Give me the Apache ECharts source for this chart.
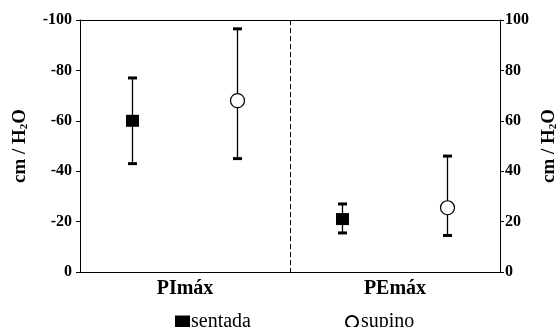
<!DOCTYPE html>
<html>
<head>
<meta charset="utf-8">
<script src="https://cdn.jsdelivr.net/npm/echarts@6/dist/echarts.min.js"></script>
<style>
html,body{margin:0;padding:0;background:#fff;}
#c{width:558px;height:327px;}
</style>
</head>
<body>
<div id="c"></div>
<script>
// ---- data ----
var categories = ['PImáx', 'PEmáx'];
var seriesNames = ['sentada', 'supino'];
var sentadaMean = [-60, -21];
var sentadaLow = [-43, -15.5];
var sentadaHigh = [-77, -27];
var supinoMean = [-68, -25.5];
var supinoLow = [-45, -14.5];
var supinoHigh = [-96.5, -46];
var leftTicks = [-100, -80, -60, -40, -20, 0];
var rightTicks = [0, 20, 40, 60, 80, 100];

// ---- chart ----
var FONT = '"Liberation Serif", "Times New Roman", serif';
var chart = echarts.init(document.getElementById('c'), null, {renderer: 'canvas'});

// each category occupies 2 units on a hidden value axis; series offset within it
function xpos(catIdx, seriesIdx) { return catIdx * 2 + 0.5 + seriesIdx; }

var meanData0 = sentadaMean.map(function (v, i) { return [xpos(i, 0), v]; });
var meanData1 = supinoMean.map(function (v, i) { return [xpos(i, 1), v]; });
var errData = [];
sentadaMean.forEach(function (v, i) { errData.push([xpos(i, 0), sentadaLow[i], sentadaHigh[i]]); });
supinoMean.forEach(function (v, i) { errData.push([xpos(i, 1), supinoLow[i], supinoHigh[i]]); });

var nameText = 'cm / H{sub|2}O';
var nameStyle = {
  fontFamily: FONT, fontWeight: 'bold', fontSize: 19, color: '#000',
  rich: {
    sub: {fontFamily: FONT, fontWeight: 'bold', fontSize: 11, color: '#000', verticalAlign: 'bottom', padding: [6, 0, 0, 0]}
  }
};

var option = {
  animation: false,
  backgroundColor: '#fff',
  grid: {left: 80, right: 58, top: 20, bottom: 55, containLabel: false, outerBoundsMode: 'none'},
  legend: [
    {data: [seriesNames[0]], left: 170, top: 307, itemWidth: 15, itemHeight: 13, itemGap: 0,
     textStyle: {fontFamily: FONT, fontSize: 20, color: '#000', padding: [0, 0, 0, -4]}},
    {data: [seriesNames[1]], left: 340, top: 307, itemWidth: 12, itemHeight: 12, itemGap: 0,
     textStyle: {fontFamily: FONT, fontSize: 20, color: '#000', padding: [0, 0, 0, -2]}}
  ],
  xAxis: [
    {type: 'category', data: categories, position: 'bottom',
     axisLine: {lineStyle: {color: '#000', width: 1}},
     axisTick: {alignWithLabel: true, inside: true, length: 4, lineStyle: {color: '#000'}},
     axisLabel: {fontFamily: FONT, fontWeight: 'bold', fontSize: 20, color: '#000', margin: 7},
     splitLine: {show: false}},
    {type: 'value', min: 0, max: categories.length * 2, position: 'top',
     axisLine: {show: true, onZero: false, lineStyle: {color: '#000', width: 1}},
     axisTick: {show: false}, axisLabel: {show: false}, splitLine: {show: false}}
  ],
  yAxis: [
    {type: 'value', min: leftTicks[0], max: leftTicks[leftTicks.length - 1], interval: 20, inverse: true,
     position: 'left',
     axisLine: {show: true, lineStyle: {color: '#000', width: 1}},
     axisTick: {show: true, length: 4, lineStyle: {color: '#000'}},
     axisLabel: {fontFamily: FONT, fontWeight: 'bold', fontSize: 16, color: '#000', margin: 8},
     splitLine: {show: false},
     name: nameText, nameLocation: 'middle', nameGap: 50, nameRotate: 90, nameTextStyle: nameStyle},
    {type: 'value', min: rightTicks[0], max: rightTicks[rightTicks.length - 1], interval: 20,
     position: 'right',
     axisLine: {show: true, lineStyle: {color: '#000', width: 1}},
     axisTick: {show: true, length: 4, lineStyle: {color: '#000'}},
     axisLabel: {fontFamily: FONT, fontWeight: 'bold', fontSize: 16, color: '#000', margin: 5},
     splitLine: {show: false},
     name: nameText, nameLocation: 'middle', nameGap: 38, nameRotate: 90, nameTextStyle: nameStyle}
  ],
  series: [
    {type: 'custom', name: 'err', xAxisIndex: 1, yAxisIndex: 0, z: 2,
     data: errData,
     renderItem: function (params, api) {
       var x = api.value(0);
       var p1 = api.coord([x, api.value(1)]);
       var p2 = api.coord([x, api.value(2)]);
       var cw = 4.5;
       var st = {stroke: '#000', lineWidth: 1.3};
       var cap = {stroke: '#000', lineWidth: 3};
       return {type: 'group', children: [
         {type: 'line', shape: {x1: p1[0], y1: p1[1], x2: p2[0], y2: p2[1]}, style: st},
         {type: 'line', shape: {x1: p1[0] - cw, y1: p1[1], x2: p1[0] + cw, y2: p1[1]}, style: cap},
         {type: 'line', shape: {x1: p2[0] - cw, y1: p2[1], x2: p2[0] + cw, y2: p2[1]}, style: cap}
       ]};
     },
     markLine: {silent: true, symbol: 'none', label: {show: false},
       lineStyle: {color: '#000', type: [5, 3], width: 1},
       data: [{xAxis: categories.length}]}
    },
    {type: 'scatter', name: seriesNames[0], xAxisIndex: 1, yAxisIndex: 0, z: 5,
     symbol: 'rect', symbolSize: [13, 12],
     itemStyle: {color: '#000', opacity: 1},
     data: meanData0},
    {type: 'scatter', name: seriesNames[1], xAxisIndex: 1, yAxisIndex: 0, z: 5,
     symbol: 'circle', symbolSize: 14,
     itemStyle: {color: '#fff', borderColor: '#000', borderWidth: 1.2, opacity: 1},
     data: meanData1}
  ]
};
chart.setOption(option);
</script>
</body>
</html>
